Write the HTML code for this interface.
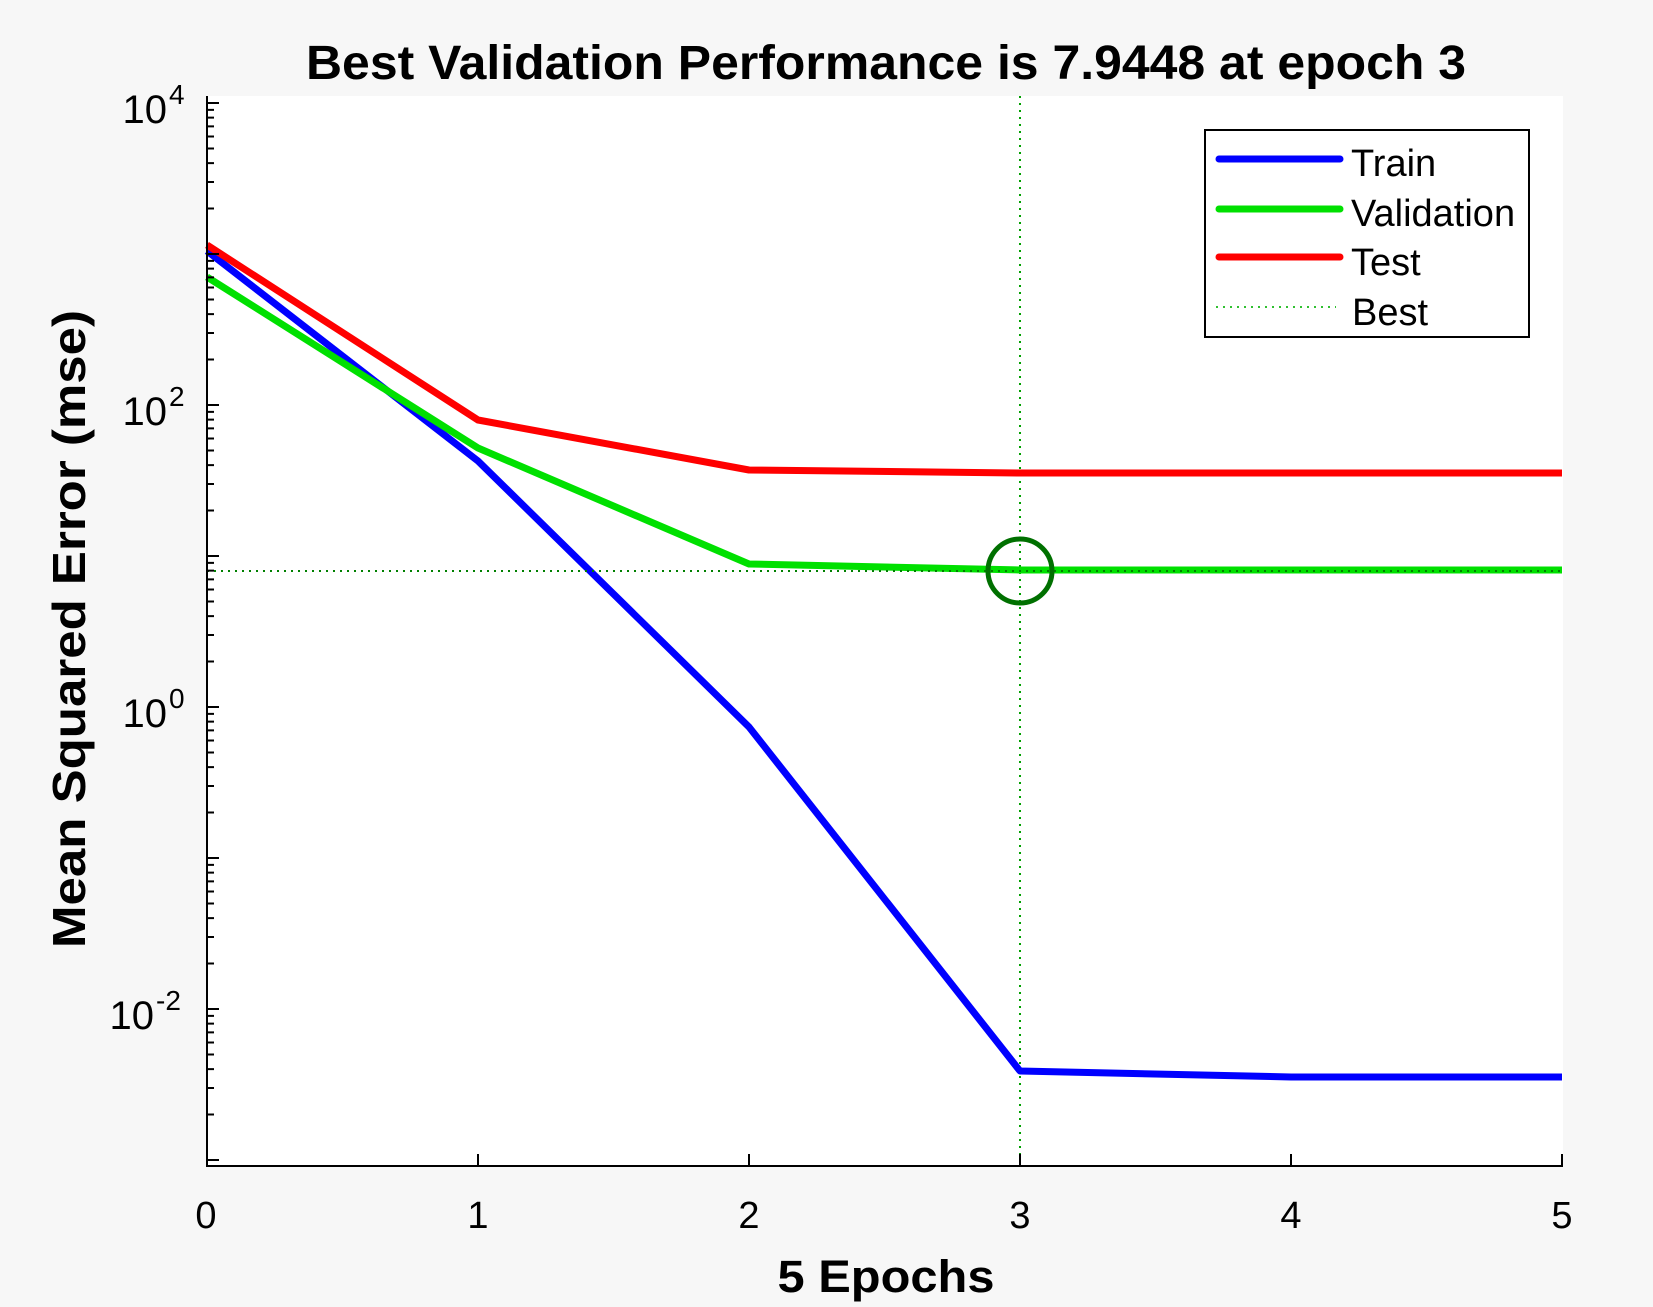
<!DOCTYPE html>
<html><head><meta charset="utf-8"><style>
html,body{margin:0;padding:0;background:#f7f7f7;}
svg{display:block;}
text{font-family:"Liberation Sans",Arial,sans-serif;fill:#000;}
</style></head><body>
<svg width="1653" height="1307" viewBox="0 0 1653 1307" xmlns="http://www.w3.org/2000/svg">
<rect width="1653" height="1307" fill="#f7f7f7"/>
<rect x="207" y="96" width="1356" height="1070" fill="#fff"/>
<text x="306" y="79" font-size="48" font-weight="bold" textLength="1160" lengthAdjust="spacingAndGlyphs">Best Validation Performance is 7.9448 at epoch 3</text>
<line x1="1020" y1="96" x2="1020" y2="1166" stroke="#00a000" stroke-width="2" stroke-dasharray="2,5"/>
<polyline points="207,251 478,461 749,727 1020,1071 1291,1077 1562,1077" fill="none" stroke="#0000ff" stroke-width="7" stroke-linejoin="round"/>
<polyline points="207,277 478,448 749,564 1020,570 1291,570 1562,570" fill="none" stroke="#00e000" stroke-width="7" stroke-linejoin="round"/>
<polyline points="207,245 478,420 749,470 1020,473 1291,473 1562,473" fill="none" stroke="#ff0000" stroke-width="7" stroke-linejoin="round"/>
<line x1="207" y1="571" x2="1562" y2="571" stroke="#008000" stroke-width="2" stroke-dasharray="2,5"/>
<circle cx="1020" cy="571" r="32" fill="none" stroke="#007000" stroke-width="5"/>
<path d="M207,96 V1166 H1563" fill="none" stroke="#000" stroke-width="2"/>
<path stroke="#000" stroke-width="2" fill="none" d="
M207,1160h12 M207,1009h12 M207,858h12 M207,707h12 M207,556h12 M207,405h12 M207,254h12 M207,103h12
M207,1114.5h7 M207,1088h7 M207,1069.1h7 M207,1054.5h7 M207,1042.5h7 M207,1032.4h7 M207,1023.6h7 M207,1015.9h7
M207,963.5h7 M207,937h7 M207,918.1h7 M207,903.5h7 M207,891.5h7 M207,881.4h7 M207,872.6h7 M207,864.9h7
M207,812.5h7 M207,786h7 M207,767.1h7 M207,752.5h7 M207,740.5h7 M207,730.4h7 M207,721.6h7 M207,713.9h7
M207,661.5h7 M207,635h7 M207,616.1h7 M207,601.5h7 M207,589.5h7 M207,579.4h7 M207,570.6h7 M207,562.9h7
M207,510.5h7 M207,484h7 M207,465.1h7 M207,450.5h7 M207,438.5h7 M207,428.4h7 M207,419.6h7 M207,411.9h7
M207,359.5h7 M207,333h7 M207,314.1h7 M207,299.5h7 M207,287.5h7 M207,277.4h7 M207,268.6h7 M207,260.9h7
M207,208.5h7 M207,182h7 M207,163.1h7 M207,148.5h7 M207,136.5h7 M207,126.4h7 M207,117.6h7 M207,109.9h7
M478,1166v-12 M749,1166v-12 M1020,1166v-12 M1291,1166v-12 M1562,1166v-12
"/>
<g font-size="40" text-anchor="end">
<text x="167" y="123">10</text><text x="169" y="104" font-size="28" text-anchor="start">4</text>
<text x="167" y="425">10</text><text x="169" y="406" font-size="28" text-anchor="start">2</text>
<text x="167" y="727">10</text><text x="169" y="708" font-size="28" text-anchor="start">0</text>
<text x="154" y="1029">10</text><text x="156" y="1010" font-size="28" text-anchor="start">-2</text>
</g>
<g font-size="38" text-anchor="middle">
<text x="206" y="1228">0</text><text x="478" y="1228">1</text><text x="749" y="1228">2</text>
<text x="1020" y="1228">3</text><text x="1291" y="1228">4</text><text x="1562" y="1228">5</text>
</g>
<text x="886" y="1292" font-size="45" font-weight="bold" text-anchor="middle" textLength="217" lengthAdjust="spacingAndGlyphs">5 Epochs</text>
<text transform="translate(85,629) rotate(-90)" font-size="46" font-weight="bold" text-anchor="middle" textLength="638" lengthAdjust="spacingAndGlyphs">Mean Squared Error  (mse)</text>
<rect x="1205" y="130" width="324" height="207" fill="#fff" stroke="#000" stroke-width="2"/>
<line x1="1219" y1="159" x2="1340" y2="159" stroke="#0000ff" stroke-width="7" stroke-linecap="round"/>
<line x1="1219" y1="209" x2="1340" y2="209" stroke="#00e000" stroke-width="7" stroke-linecap="round"/>
<line x1="1219" y1="257" x2="1340" y2="257" stroke="#ff0000" stroke-width="7" stroke-linecap="round"/>
<line x1="1216" y1="307" x2="1336" y2="307" stroke="#30c030" stroke-width="2" stroke-dasharray="2,5"/>
<g font-size="38">
<text x="1351" y="176">Train</text>
<text x="1351" y="226">Validation</text>
<text x="1351" y="275">Test</text>
<text x="1352" y="325">Best</text>
</g>
</svg>
</body></html>
